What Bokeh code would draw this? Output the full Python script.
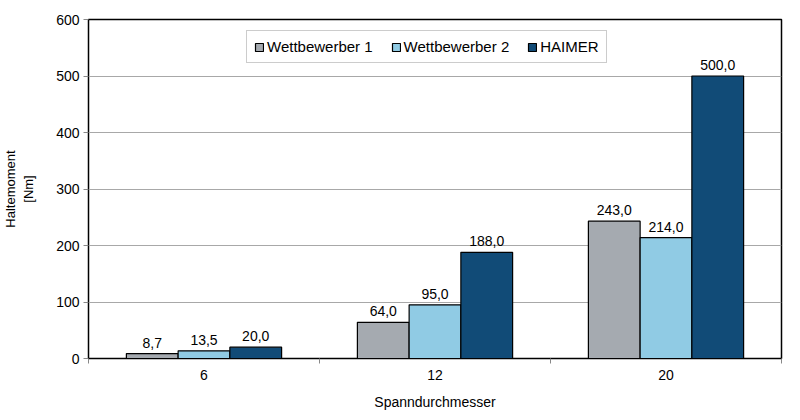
from bokeh.plotting import figure
from bokeh.models import Range1d, FixedTicker, ColumnDataSource, Legend, LegendItem, LabelSet
from bokeh.core.properties import value
from bokeh.embed import file_html
from bokeh.resources import INLINE

# data
diameters = ["6", "12", "20"]
wettbewerber1 = [8.7, 64.0, 243.0]
wettbewerber2 = [13.5, 95.0, 214.0]
haimer = [20.0, 188.0, 500.0]
series_names = ["Wettbewerber 1", "Wettbewerber 2", "HAIMER"]
colors = ["#A5AAB0", "#90CBE4", "#114B77"]
y_ticks = [0, 100, 200, 300, 400, 500, 600]

FONT = "Liberation Sans"

p = figure(width=800, height=420, output_backend="svg", toolbar_location=None,
           x_range=Range1d(0, len(diameters)), y_range=Range1d(0, 600),
           min_border_left=87, min_border_right=19, min_border_top=19, min_border_bottom=62)

p.outline_line_color = "black"
p.outline_line_width = 1.5
p.background_fill_color = "white"
p.border_fill_color = "white"

centers = [i + 0.5 for i in range(len(diameters))]
bw = 0.224
offsets = [-bw, 0, bw]

items = []
for vals, name, col, off in zip([wettbewerber1, wettbewerber2, haimer], series_names, colors, offsets):
    src = ColumnDataSource(dict(x=[c + off for c in centers], top=vals,
                                lbl=[f"{v:.1f}".replace(".", ",") for v in vals]))
    r = p.vbar(x="x", top="top", width=bw, source=src, fill_color=col,
               line_color="black", line_width=1.2)
    items.append(LegendItem(label=name, renderers=[r]))
    p.add_layout(LabelSet(x="x", y="top", text="lbl", source=src, text_align="center",
                          y_offset=6, text_font=value(FONT), text_font_size=value("14px"),
                          text_color="black"))

# x axis: labels at group centres, separator ticks at group boundaries
p.xaxis.ticker = FixedTicker(ticks=centers, minor_ticks=list(range(len(diameters) + 1)))
p.xaxis.major_label_overrides = {c: d for c, d in zip(centers, diameters)}
p.xaxis.major_tick_line_color = None
p.xaxis.minor_tick_line_color = "#888888"
p.xaxis.minor_tick_out = 5
p.xaxis.minor_tick_in = 0
p.xaxis.axis_line_color = "black"
p.xaxis.axis_label = "Spanndurchmesser"
p.xaxis.major_label_standoff = 5
p.xaxis.axis_label_standoff = 11

p.yaxis.ticker = FixedTicker(ticks=y_ticks)
p.yaxis.axis_label = "Haltemoment\n[Nm]"
p.yaxis.major_tick_out = 5
p.yaxis.major_tick_in = 0
p.yaxis.major_tick_line_color = "#888888"
p.yaxis.minor_tick_line_color = None
p.yaxis.axis_line_color = "black"
p.yaxis.major_label_standoff = 4
p.yaxis.axis_label_standoff = 17

for ax in (p.xaxis, p.yaxis):
    ax.major_label_text_font = FONT
    ax.major_label_text_font_size = "14px"
    ax.major_label_text_color = "black"
    ax.axis_label_text_font = FONT
    ax.axis_label_text_font_size = "14px"
    ax.axis_label_text_font_style = "normal"
    ax.axis_label_text_color = "black"
p.yaxis.axis_label_text_font_size = "13px"

p.xgrid.grid_line_color = None
p.ygrid.grid_line_color = "#A8A8A8"
p.ygrid.grid_line_width = 1.2

legend = Legend(items=items, location=(158, 295), orientation="horizontal",
                label_text_font=FONT, label_text_font_size="15px", label_text_color="black",
                glyph_width=10, glyph_height=10, label_standoff=3, spacing=18,
                padding=7, margin=0, border_line_color="#999999", border_line_width=1,
                background_fill_color="white", background_fill_alpha=1)
p.add_layout(legend)

open("out.html", "w").write(file_html(p, INLINE))
